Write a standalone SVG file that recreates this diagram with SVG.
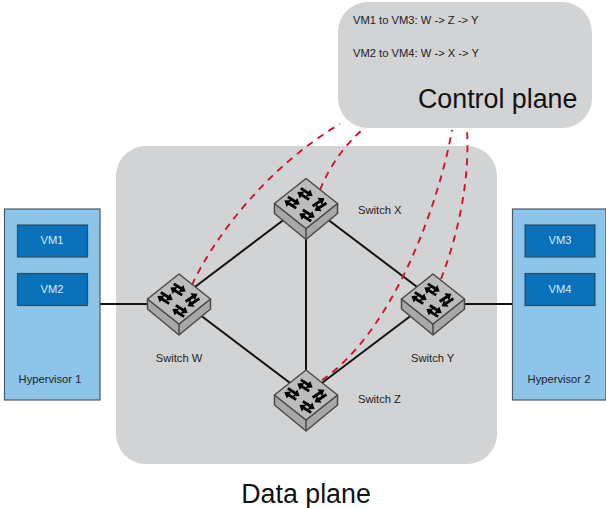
<svg xmlns="http://www.w3.org/2000/svg" width="606" height="508" viewBox="0 0 606 508">
<defs>
<style>
text{font-family:"Liberation Sans",Arial,sans-serif;fill:#222}
.s{font-size:11.200px}
.big{font-size:26.800px;fill:#111}
.vm{font-size:11.200px;fill:#d8ecf8;text-anchor:middle}
.hyp{fill:#8dc4ea;stroke:#4a5a66;stroke-width:1.200}
.vmb{fill:#0a70b9;stroke:#2c4f68;stroke-width:1.200}
.link{fill:none;stroke:#111;stroke-width:2}
.ctl{fill:none;stroke:#d0142c;stroke-width:1.900;stroke-dasharray:7 6}
.top{fill:#bcbcbc;stroke:#4a4a4a;stroke-width:1.500;stroke-linejoin:round}
.side{fill:#a8a8a8;stroke:#4a4a4a;stroke-width:1.500;stroke-linejoin:round}
.pair{fill:#000;stroke:#000;stroke-width:1.200}
</style>
<path id="pair" class="pair" d="M-6-3.300H2.500V-5.500L6.500-2.500 2.500.5V-1.700H-6ZM6 1.700H-2.500V-.5L-6.500 2.500-2.500 5.500V3.300H6Z"/>
<g id="sw">
<path class="side" d="M-31.500 0V10L0 36 31.500 10V0L0 25Z"/>
<path class="side" d="M0 25V36"/>
<path class="top" d="M0-25 31.500 0 0 25-31.500 0Z"/>
<use href="#pair" transform="translate(-1 -9.500) rotate(33)"/>
<use href="#pair" transform="translate(-14 -1) rotate(33)"/>
<use href="#pair" transform="translate(13.500 1) rotate(-33)"/>
<use href="#pair" transform="translate(1 12) rotate(33)"/>
</g>
</defs>
<rect width="606" height="508" fill="#fff"/>
<g id="data-plane"><rect x="116" y="146" width="381" height="318" rx="30" fill="#d1d3d4"/><text x="306" y="503" class="big" text-anchor="middle">Data plane</text></g>
<g id="control-plane"><rect x="338" y="2" width="254" height="126" rx="30" fill="#d1d3d4"/>
<text x="353" y="24" class="s">VM1 to VM3: W -&gt; Z -&gt; Y</text>
<text x="353" y="57" class="s">VM2 to VM4: W -&gt; X -&gt; Y</text>
<text x="418" y="108" class="big">Control plane</text></g>
<g id="connectors">
<path class="link" d="M100 304H148M179 299 306 203M306 203 433 299M179 299 306 395M306 395 433 299M306 203V395M433 304H512"/>
<path class="ctl" d="M192 285C215 235 270 165 340 124"/>
<path class="ctl" d="M320 190C330 165 345 145 363 129"/>
<path class="ctl" d="M322 380C395 330 440 199 452 130"/>
<path class="ctl" d="M441 279C458 235 470 180 467 130"/>
</g>
<g id="hypervisor-1"><rect class="hyp" x="4.500" y="209" width="95.500" height="191"/><text x="50" y="383" class="s" text-anchor="middle">Hypervisor 1</text></g>
<g id="vm1"><rect class="vmb" x="17.500" y="225" width="70" height="32"/><text x="52" y="244" class="vm">VM1</text></g>
<g id="vm2"><rect class="vmb" x="17.500" y="273.500" width="70" height="32"/><text x="52" y="293" class="vm">VM2</text></g>
<g id="hypervisor-2"><rect class="hyp" x="512.500" y="209" width="93.500" height="191"/><text x="559" y="383" class="s" text-anchor="middle">Hypervisor 2</text></g>
<g id="vm3"><rect class="vmb" x="525" y="225" width="70" height="32"/><text x="560" y="244" class="vm">VM3</text></g>
<g id="vm4"><rect class="vmb" x="525" y="273.500" width="70" height="32"/><text x="560" y="293" class="vm">VM4</text></g>
<g id="switch-w"><use href="#sw" x="179" y="299"/><text x="179" y="362" class="s" text-anchor="middle">Switch W</text></g>
<g id="switch-x"><use href="#sw" x="306" y="203.500"/><text x="358" y="214" class="s">Switch X</text></g>
<g id="switch-y"><use href="#sw" x="433" y="299"/><text x="411" y="362" class="s">Switch Y</text></g>
<g id="switch-z"><use href="#sw" x="306" y="395"/><text x="358" y="403" class="s">Switch Z</text></g>
</svg>
